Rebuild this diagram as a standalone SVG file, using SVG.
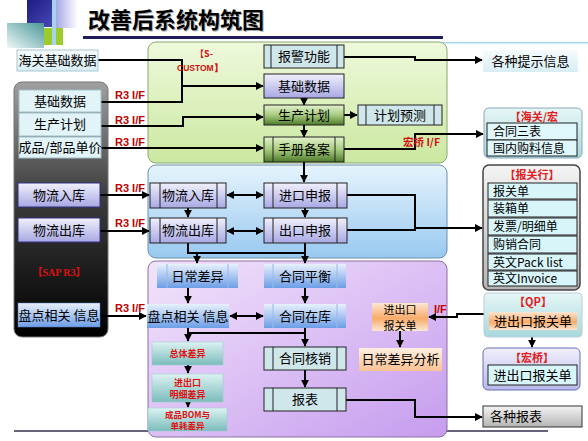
<svg xmlns="http://www.w3.org/2000/svg" width="588" height="441" viewBox="0 0 588 441">
<defs>
<style>
.t{font-family:"Noto Sans CJK SC","Liberation Sans",sans-serif;font-size:13px;fill:#000;text-anchor:middle}
.tl{font-family:"Noto Sans CJK SC","Liberation Sans",sans-serif;font-size:13px;fill:#000}
.tr{font-family:"Noto Sans CJK SC","Liberation Sans",sans-serif;font-size:12px;fill:#000}
.t2{font-family:"Noto Sans CJK SC","Liberation Sans",sans-serif;font-size:11px;fill:#000;text-anchor:middle}
.r{font-family:"Liberation Sans",Arial,sans-serif;font-weight:bold;font-size:11px;fill:#c00000}
.rc{font-family:"Noto Sans CJK SC","Liberation Sans",sans-serif;font-weight:bold;font-size:11px;fill:#e02020;text-anchor:middle}
.rs{font-family:"Noto Sans CJK SC","Liberation Sans",sans-serif;font-weight:bold;font-size:9px;fill:#e01010;text-anchor:middle}
.c{fill:none;stroke:#000;stroke-width:2}
.ca{fill:none;stroke:#000;stroke-width:2;marker-end:url(#a)}
.cd{fill:none;stroke:#000;stroke-width:2;marker-end:url(#a);marker-start:url(#a)}
.ln{stroke:#222;stroke-width:1}
.bx{stroke:#222;stroke-width:1}
</style>
<marker id="a" viewBox="0 0 10 10" refX="9" refY="5" markerWidth="8" markerHeight="8" markerUnits="userSpaceOnUse" orient="auto-start-reverse"><path d="M0,0 L10,5 L0,10 z" fill="#000"/></marker>
<linearGradient id="gLeft" x1="0" y1="0" x2="0" y2="1"><stop offset="0" stop-color="#a0a0a0"/><stop offset="0.45" stop-color="#3c3c3c"/><stop offset="1" stop-color="#000"/></linearGradient>
<linearGradient id="gPG" x1="0" y1="0" x2="0" y2="1"><stop offset="0" stop-color="#eef9dc"/><stop offset="1" stop-color="#cbe8a0"/></linearGradient>
<linearGradient id="gPB" x1="0" y1="0" x2="0" y2="1"><stop offset="0" stop-color="#e6f4fd"/><stop offset="1" stop-color="#98c8f0"/></linearGradient>
<linearGradient id="gPP" x1="0" y1="0" x2="1" y2="1"><stop offset="0" stop-color="#f2e4fb"/><stop offset="1" stop-color="#c69cee"/></linearGradient>
<linearGradient id="gLav" x1="0" y1="0" x2="0" y2="1"><stop offset="0" stop-color="#f0f0fc"/><stop offset="1" stop-color="#a8a8e4"/></linearGradient>
<linearGradient id="gGrn" x1="0" y1="0" x2="0" y2="1"><stop offset="0" stop-color="#e2f2cc"/><stop offset="0.5" stop-color="#a8cc80"/><stop offset="1" stop-color="#4e7a2a"/></linearGradient>
<linearGradient id="gBlu" x1="0" y1="0" x2="0" y2="1"><stop offset="0" stop-color="#e8f0fc"/><stop offset="1" stop-color="#6c9ee6"/></linearGradient>
<linearGradient id="gTeal" x1="0" y1="0" x2="0" y2="1"><stop offset="0" stop-color="#dcf2f2"/><stop offset="1" stop-color="#7cbcbc"/></linearGradient>
<linearGradient id="gOr" x1="0" y1="0" x2="0" y2="1"><stop offset="0" stop-color="#fde6d2"/><stop offset="0.55" stop-color="#f8ab6a"/><stop offset="1" stop-color="#fde6d2"/></linearGradient>
<linearGradient id="gPeach" x1="0" y1="0" x2="0" y2="1"><stop offset="0" stop-color="#fff0e2"/><stop offset="1" stop-color="#f9c293"/></linearGradient>
<linearGradient id="gGray" x1="0" y1="0" x2="0" y2="1"><stop offset="0" stop-color="#f4f4f4"/><stop offset="1" stop-color="#b4b4b4"/></linearGradient>
<linearGradient id="gInfo" x1="0" y1="0" x2="0" y2="1"><stop offset="0" stop-color="#f6fbfd"/><stop offset="1" stop-color="#d8eef4"/></linearGradient>
<linearGradient id="gTP" x1="0" y1="0" x2="0" y2="1"><stop offset="0" stop-color="#e6f6f6"/><stop offset="1" stop-color="#a8d8dc"/></linearGradient>
<linearGradient id="gLP" x1="0" y1="0" x2="0" y2="1"><stop offset="0" stop-color="#f0f0fc"/><stop offset="1" stop-color="#b8b8ea"/></linearGradient>
<linearGradient id="gD1" x1="0" y1="0" x2="1" y2="1"><stop offset="0" stop-color="#1c1c80"/><stop offset="1" stop-color="#4848b8"/></linearGradient>
<linearGradient id="gD2" x1="0" y1="0" x2="1" y2="0"><stop offset="0" stop-color="#a8a8e8"/><stop offset="1" stop-color="#ffffff"/></linearGradient>
<linearGradient id="gD3" x1="1" y1="0" x2="0" y2="1"><stop offset="0" stop-color="#4c9898"/><stop offset="1" stop-color="#f0f8f8"/></linearGradient>
</defs>
<rect width="588" height="441" fill="#fff"/>

<g id="header">
<rect x="27" y="0" width="25" height="27" fill="url(#gD1)"/>
<rect x="56" y="0" width="22" height="28" fill="url(#gD2)"/>
<rect x="44" y="28" width="19" height="17" fill="#9ccc2c"/>
<rect x="7" y="23" width="37" height="25" fill="url(#gD3)"/>
<rect x="52" y="0" width="4" height="45" fill="#a4d4f0"/>
<rect x="83" y="36" width="360" height="3" fill="#1e1e5a"/>
<rect x="443" y="42" width="145" height="1.5" fill="#a8d8f0"/>
<text x="89" y="29" font-family="'Noto Sans CJK SC',sans-serif" font-size="22" font-weight="bold" fill="#aaa">改善后系统构筑图</text>
<text x="88" y="28" font-family="'Noto Sans CJK SC',sans-serif" font-size="22" font-weight="bold" fill="#000">改善后系统构筑图</text>
</g>

<line x1="14" y1="431" x2="548" y2="431" stroke="#303050" stroke-width="1.5"/>

<g id="panels">
<rect id="leftPanel" x="14" y="82" width="94" height="255" rx="8" fill="url(#gLeft)" stroke="#777"/>
<rect id="greenPanel" x="148" y="42" width="299" height="121" rx="8" fill="url(#gPG)" stroke="#8aa870"/>
<rect id="bluePanel" x="148" y="165" width="299" height="93" rx="8" fill="url(#gPB)" stroke="#6a90b0"/>
<rect id="purplePanel" x="148" y="261" width="299" height="176" rx="8" fill="url(#gPP)" stroke="#8a70a0"/>
<text x="59" y="276" text-anchor="middle" style="font-family:'Liberation Serif','Noto Sans CJK SC',serif;font-weight:bold;font-size:10px;fill:#e01010">【SAP R3】</text>
</g>

<g id="connectors">
<path class="c" d="M98,60 H182 V102 H101"/>
<path class="ca" d="M182,86 H263"/>
<path class="ca" d="M101,126 H183 V117 H263"/>
<path class="ca" d="M101,148 H263"/>
<path class="ca" d="M304,98 V105"/>
<path class="ca" d="M304,125 V137"/>
<path class="ca" d="M344,115 H357"/>
<path class="ca" d="M304,162 V182"/>
<path class="ca" d="M344,57 H415 V60 H482"/>
<path class="ca" d="M344,149 H415 V134 H483"/>
<path class="ca" d="M100,195 H149"/>
<path class="ca" d="M100,231 H149"/>
<path class="cd" d="M227,195 H263"/>
<path class="cd" d="M227,231 H263"/>
<path class="ca" d="M188,208 V217"/>
<path class="ca" d="M305,208 V217"/>
<path class="c" d="M347,195 H415 V230 H347"/>
<path class="ca" d="M415,228 H482"/>
<path class="c" d="M188,243 V253 H305 V243"/>
<path class="ca" d="M197,253 V263"/>
<path class="ca" d="M305,253 V263"/>
<path class="ca" d="M188,288 V303"/>
<path class="ca" d="M305,288 V303"/>
<path class="cd" d="M230,316 H263"/>
<path class="ca" d="M100,316 H146"/>
<path class="c" d="M188,328 V333 H305 V328"/>
<path class="ca" d="M188,333 V341"/>
<path class="ca" d="M305,333 V346"/>
<path class="ca" d="M188,365 V373"/>
<path class="ca" d="M188,402 V407"/>
<path class="ca" d="M305,370 V387"/>
<path class="ca" d="M346,400 H415 V417 H482"/>
<path class="ca" d="M400,331 V347"/>
<path class="ca" d="M484,314 H457 V317 H429"/>
<path class="ca" d="M532,337 V347"/>
<text class="r" x="115" y="99">R3 I/F</text>
<text class="r" x="115" y="124">R3 I/F</text>
<text class="r" x="115" y="146">R3 I/F</text>
<text class="r" x="115" y="192">R3 I/F</text>
<text class="r" x="115" y="227">R3 I/F</text>
<text class="r" x="115" y="312">R3 I/F</text>
<text class="r" x="434" y="313">I/F</text>
<text x="403" y="146" font-family="'Noto Sans CJK SC','Liberation Sans',sans-serif" font-weight="bold" font-size="10.5" fill="#d01010">宏桥 I/F</text>
<text x="195" y="57" font-family="'Noto Sans CJK SC','Liberation Sans',sans-serif" font-weight="bold" font-size="9" fill="#d01010">【S-</text>
<text x="177" y="71" font-family="'Liberation Sans',sans-serif" font-weight="bold" font-size="8.5" fill="#d01010">CUSTOM】</text>
</g>

<g id="n_hgjcsj"><rect x="17" y="50" width="81" height="21" fill="url(#gInfo)" stroke="#a8c8d0"/><text class="t" x="57.5" y="65">海关基础数据</text></g>
<g id="n_l_jcsj"><rect x="19" y="90" width="82" height="22" fill="#e2f4f8" stroke="#a0c0c8"/><text class="t" x="60" y="105.5">基础数据</text></g>
<g id="n_l_scjh"><rect x="19" y="113" width="82" height="23" fill="#e2f4f8" stroke="#a0c0c8"/><text class="t" x="60" y="129">生产计划</text></g>
<g id="n_l_cpdj"><rect x="19" y="137" width="82" height="21" fill="#e2f4f8" stroke="#a0c0c8"/><text class="t" x="60" y="152">成品/部品单价</text></g>
<g id="n_l_wlrk"><rect x="18" y="183" width="82" height="24" fill="url(#gLav)" stroke="#303080"/><text class="t" x="59" y="200">物流入库</text></g>
<g id="n_l_wlck"><rect x="18" y="218" width="82" height="24" fill="url(#gLav)" stroke="#303080"/><text class="t" x="59" y="235">物流出库</text></g>
<g id="n_l_pdxx"><rect x="18" y="303" width="82" height="24" fill="url(#gBlu)" stroke="#5a80c0" stroke-width="0.5"/><text class="t" x="59" y="320">盘点相关 信息</text></g>

<g id="n_bjgn"><rect class="bx" x="264" y="45" width="80" height="23" fill="#cfe6ea"/><line class="ln" x1="271" y1="45" x2="271" y2="68"/><line class="ln" x1="337" y1="45" x2="337" y2="68"/><text class="t" x="304" y="61">报警功能</text></g>
<g id="n_jcsj"><rect class="bx" x="264" y="74" width="80" height="24" fill="url(#gLav)" stroke="#303080"/><text class="t" x="304" y="90.5">基础数据</text></g>
<g id="n_scjh"><rect class="bx" x="264" y="105" width="80" height="20" fill="url(#gGrn)"/><text class="t" x="304" y="119.5">生产计划</text></g>
<g id="n_jhyc"><rect class="bx" x="358" y="105" width="84" height="20" fill="#cfe6ea"/><line class="ln" x1="366" y1="105" x2="366" y2="125"/><line class="ln" x1="434" y1="105" x2="434" y2="125"/><text class="t" x="400" y="119.5">计划预测</text></g>
<g id="n_scba"><rect class="bx" x="264" y="137" width="80" height="25" fill="url(#gGrn)"/><line class="ln" x1="273" y1="137" x2="273" y2="162"/><line class="ln" x1="335" y1="137" x2="335" y2="162"/><text class="t" x="304" y="154">手册备案</text></g>

<g id="n_wlrk"><rect class="bx" x="150" y="183" width="76" height="25" fill="url(#gLav)" stroke="#303080"/><line class="ln" x1="160" y1="183" x2="160" y2="208"/><line class="ln" x1="217" y1="183" x2="217" y2="208"/><text class="t" x="188" y="200">物流入库</text></g>
<g id="n_jksb"><rect class="bx" x="264" y="183" width="83" height="25" fill="url(#gLav)" stroke="#303080"/><line class="ln" x1="273" y1="183" x2="273" y2="208"/><line class="ln" x1="337" y1="183" x2="337" y2="208"/><text class="t" x="305" y="200">进口申报</text></g>
<g id="n_wlck"><rect class="bx" x="150" y="218" width="76" height="25" fill="url(#gLav)" stroke="#303080"/><line class="ln" x1="160" y1="218" x2="160" y2="243"/><line class="ln" x1="217" y1="218" x2="217" y2="243"/><text class="t" x="188" y="235">物流出库</text></g>
<g id="n_cksb"><rect class="bx" x="264" y="218" width="83" height="25" fill="url(#gLav)" stroke="#303080"/><line class="ln" x1="273" y1="218" x2="273" y2="243"/><line class="ln" x1="337" y1="218" x2="337" y2="243"/><text class="t" x="305" y="235">出口申报</text></g>

<g id="n_rccy"><rect x="157" y="264" width="81" height="24" fill="url(#gBlu)"/><line x1="167" y1="264" x2="167" y2="288" stroke="#9ab8e8"/><line x1="228" y1="264" x2="228" y2="288" stroke="#9ab8e8"/><text class="t" x="197.5" y="281">日常差异</text></g>
<g id="n_htph"><rect x="264" y="264" width="82" height="24" fill="url(#gBlu)"/><line x1="273" y1="264" x2="273" y2="288" stroke="#9ab8e8"/><line x1="337" y1="264" x2="337" y2="288" stroke="#9ab8e8"/><text class="t" x="305" y="281">合同平衡</text></g>
<g id="n_pdxx"><rect x="147" y="304" width="82" height="24" fill="url(#gBlu)"/><text class="t" x="188" y="321">盘点相关 信息</text></g>
<g id="n_htzk"><rect x="264" y="304" width="82" height="24" fill="url(#gBlu)"/><line x1="273" y1="304" x2="273" y2="328" stroke="#9ab8e8"/><line x1="337" y1="304" x2="337" y2="328" stroke="#9ab8e8"/><text class="t" x="305" y="321">合同在库</text></g>
<g id="n_ztcy"><rect x="152" y="342" width="71" height="23" fill="url(#gTeal)" stroke="#9cc" stroke-width="0.5"/><text class="rs" x="187.5" y="357">总体差异</text></g>
<g id="n_mxcy"><rect x="152" y="374" width="71" height="28" fill="url(#gTeal)" stroke="#9cc" stroke-width="0.5"/><text class="rs" x="187.5" y="386">进出口</text><text class="rs" x="187.5" y="398">明细差异</text></g>
<g id="n_bomcy"><rect x="148" y="408" width="79" height="23" fill="url(#gTeal)" stroke="#9cc" stroke-width="0.5"/><text class="rs" x="187.5" y="418" style="font-size:8.5px">成品BOM与</text><text class="rs" x="187.5" y="429" style="font-size:8.5px">单耗差异</text></g>
<g id="n_hthx"><rect class="bx" x="264" y="347" width="82" height="23" fill="#cfe6ea"/><line class="ln" x1="273" y1="347" x2="273" y2="370"/><line class="ln" x1="337" y1="347" x2="337" y2="370"/><text class="t" x="305" y="363">合同核销</text></g>
<g id="n_bb"><rect class="bx" x="264" y="388" width="82" height="23" fill="#cfe6ea"/><line class="ln" x1="273" y1="388" x2="273" y2="411"/><line class="ln" x1="337" y1="388" x2="337" y2="411"/><text class="t" x="305" y="404">报表</text></g>
<g id="n_jckbgd"><rect x="372" y="303" width="56" height="28" fill="url(#gOr)"/><text class="t2" x="400" y="313.5">进出口</text><text class="t2" x="400" y="329.5">报关单</text></g>
<g id="n_rccyfx"><rect x="359" y="348" width="83" height="23" fill="url(#gPeach)"/><text class="t" x="400.5" y="364">日常差异分析</text></g>

<g id="n_tsxx"><rect x="483" y="50" width="95" height="22" fill="url(#gInfo)"/><text class="t" x="530.5" y="66">各种提示信息</text></g>
<g id="n_hghq"><rect x="484" y="108" width="98" height="50" rx="5" fill="url(#gTP)" stroke="#8ab"/><text class="rc" x="534" y="121">【海关/宏</text><rect class="bx" x="487" y="123" width="90" height="17" fill="#dff6fa"/><text class="tr" x="493" y="136">合同三表</text><rect class="bx" x="487" y="140" width="90" height="16" fill="#dff6fa"/><text class="tr" x="493" y="152.5">国内购料信息</text></g>
<g id="n_bgh"><rect x="483" y="165" width="97" height="125" rx="6" fill="url(#gGray)" stroke="#444" stroke-width="1.5"/><text class="rc" x="532" y="179">【报关行】</text>
<rect class="bx" x="488" y="183" width="89" height="16" fill="#d8f6fa"/><text class="tr" x="493" y="195.5">报关单</text>
<rect class="bx" x="488" y="200" width="89" height="17" fill="#d8f6fa"/><text class="tr" x="493" y="213">装箱单</text>
<rect class="bx" x="488" y="218" width="89" height="17" fill="#d8f6fa"/><text class="tr" x="493" y="231">发票/明细单</text>
<rect class="bx" x="488" y="236" width="89" height="17" fill="#d8f6fa"/><text class="tr" x="493" y="249">购销合同</text>
<rect class="bx" x="488" y="254" width="89" height="16" fill="#d8f6fa"/><text class="tr" x="493" y="266.5">英文Pack list</text>
<rect class="bx" x="488" y="271" width="89" height="15" fill="#d8f6fa"/><text class="tr" x="493" y="283">英文Invoice</text></g>
<g id="n_qp"><rect x="484" y="293" width="98" height="44" rx="4" fill="url(#gTP)" stroke="#bcd"/><text class="rc" x="533" y="306">【QP】</text><rect x="489" y="312" width="88" height="18" fill="url(#gOr)"/><text class="t" x="533" y="326">进出口报关单</text></g>
<g id="n_hq"><rect x="483" y="348" width="97" height="42" rx="5" fill="url(#gLP)" stroke="#6870b0"/><text class="rc" x="532" y="362">【宏桥】</text><rect class="bx" x="488" y="365" width="89" height="20" fill="#d8f6fa"/><text class="t" x="532.5" y="380">进出口报关单</text></g>
<g id="n_gzbb"><rect x="483" y="406" width="99" height="21" fill="url(#gGray)" stroke="#333"/><text class="tl" x="490" y="421">各种报表</text></g>
</svg>
